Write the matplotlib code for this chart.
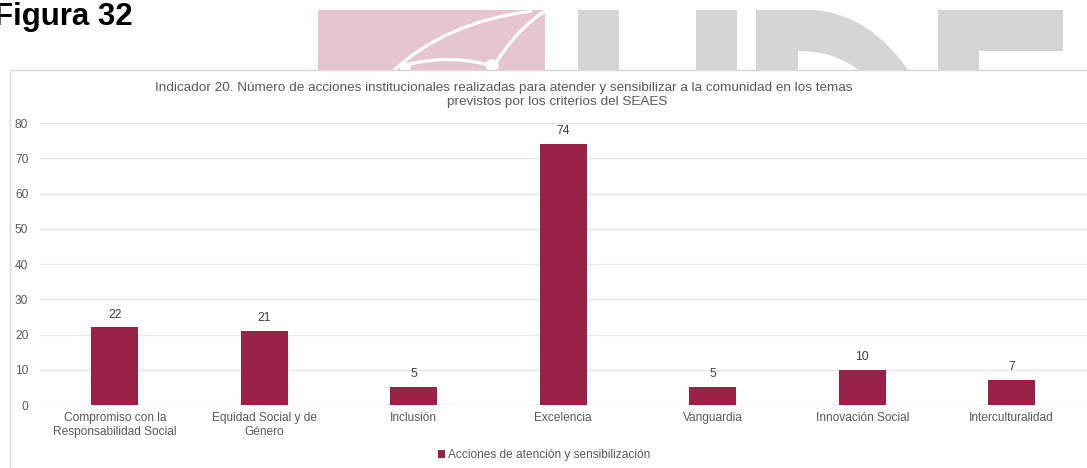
import matplotlib
matplotlib.use("Agg")
import matplotlib.pyplot as plt
from matplotlib.patches import Rectangle, PathPatch, Ellipse
from matplotlib.path import Path

plt.rcParams["font.family"] = ["Liberation Sans", "DejaVu Sans"]

# data
categories = [
    "Compromiso con la\nResponsabilidad Social",
    "Equidad Social y de\nGénero",
    "Inclusión",
    "Excelencia",
    "Vanguardia",
    "Innovación Social",
    "Interculturalidad",
]
values = [22, 21, 5, 74, 5, 10, 7]
series_name = "Acciones de atención y sensibilización"
y_ticks = [0, 10, 20, 30, 40, 50, 60, 70, 80]

BAR = "#9B2247"
GRID = "#E6E6E6"
TXT = "#595959"
W, H = 1087, 468

fig = plt.figure(figsize=(W / 100, H / 100), dpi=100)

# background layer in pixel coordinates (watermark + chart box)
bg = fig.add_axes([0, 0, 1, 1], zorder=0)
bg.set_xlim(0, W)
bg.set_ylim(H, 0)
bg.axis("off")

pink = "#E5C6CC"
grey = "#D5D5D5"
bg.add_patch(Rectangle((318, 10), 227, 60, color=pink, lw=0))
for verts in [
    [(392, 72), (445, 22), (532, 11)],
    [(490, 72), (515, 30), (545, 11)],
    [(402, 66), (452, 52), (498, 68)],
]:
    bg.add_patch(PathPatch(Path(verts, [Path.MOVETO, Path.CURVE3, Path.CURVE3]),
                           fill=False, ec="white", lw=2.3))
bg.add_patch(Ellipse((405, 67), 10, 8, color="white"))
bg.add_patch(Ellipse((492, 65), 12, 10, color="white"))

# U
bg.add_patch(Rectangle((578, 10), 41, 60, color=grey, lw=0))
bg.add_patch(Rectangle((696, 10), 41, 60, color=grey, lw=0))
# P
bg.add_patch(Rectangle((756, 10), 42, 60, color=grey, lw=0))
p_out = [(798, 10), (815, 10), (870, 15), (908, 70), (858, 70), (835, 51), (798, 51), (798, 10)]
bg.add_patch(PathPatch(Path(p_out, [Path.MOVETO, Path.LINETO, Path.CURVE3, Path.CURVE3,
                                    Path.LINETO, Path.CURVE3, Path.CURVE3, Path.CLOSEPOLY]),
                       color=grey, lw=0))
# E
bg.add_patch(Rectangle((938, 10), 125, 41, color=grey, lw=0))
bg.add_patch(Rectangle((938, 10), 41, 60, color=grey, lw=0))

# chart box
bg.add_patch(Rectangle((9.5, 69.5), 1200, 500, fc="white", ec="#D9D9D9", lw=1))

fig.text(-6 / W, 1 - 25 / H, "Figura 32", fontsize=22.5, fontweight="bold",
         color="black", ha="left", va="baseline")

fig.text(504 / W, 1 - 91 / H,
         "Indicador 20. Número de acciones institucionales realizadas para atender y "
         "sensibilizar a la comunidad en los temas",
         fontsize=9.7, color=TXT, ha="center", va="baseline")
fig.text(557 / W, 1 - 105 / H, "previstos por los criterios del SEAES",
         fontsize=9.7, color=TXT, ha="center", va="baseline")

# main plot
ax = fig.add_axes([40 / W, 1 - 405 / H, 1046.5 / W, 282 / H], zorder=1)
ax.patch.set_alpha(0)
x = range(len(categories))
bars = ax.bar(x, values, width=0.315, color=BAR, zorder=2, label=series_name)
ax.set_xlim(-0.5, len(categories) - 0.5)
ax.set_ylim(0, 80)
ax.set_yticks(y_ticks)
ax.set_xticks(list(x))
ax.set_xticklabels(categories, fontsize=8.6, color=TXT, linespacing=1.25)
ax.tick_params(axis="y", labelsize=8.6, labelcolor=TXT, length=0, pad=8.5)
ax.tick_params(axis="x", length=0, pad=5)
ax.grid(axis="y", color=GRID, lw=0.9, zorder=0)
for s in ax.spines.values():
    s.set_visible(False)
ax.axhline(0, color="#D9D9D9", lw=1, zorder=1)

for b, v in zip(bars, values):
    ax.annotate(str(v), (b.get_x() + b.get_width() / 2, v), xytext=(0, 5),
                textcoords="offset points", ha="center", va="bottom",
                fontsize=8.8, color="#404040")

ax.legend(loc="center", bbox_to_anchor=(544 / W, 1 - 455 / H),
          bbox_transform=fig.transFigure, frameon=False, fontsize=8.6,
          handlelength=0.6, handleheight=0.6, handletextpad=0.3,
          labelcolor=TXT)

plt.savefig("out.png", dpi=100)
plt.close()
